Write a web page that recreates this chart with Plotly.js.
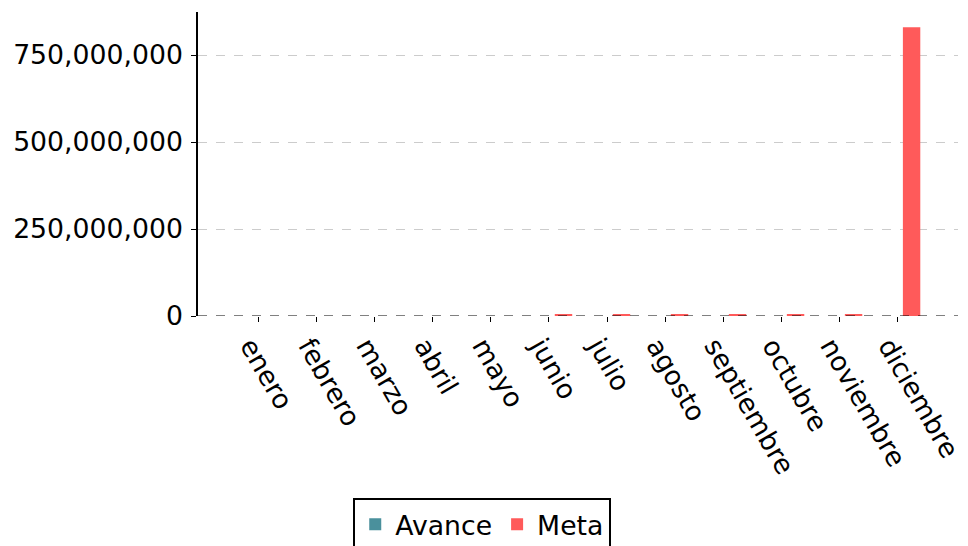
<!DOCTYPE html>
<html><head><meta charset="utf-8">
<script src="https://cdn.plot.ly/plotly-3.0.1.min.js"></script>
<style>body{margin:0;background:#fff}#c{width:968px;height:546px}</style>
</head><body><div id="c"></div>
<script>
const months = ["enero","febrero","marzo","abril","mayo","junio","julio","agosto","septiembre","octubre","noviembre","diciembre"];
const avance = [0,0,0,0,0,0,0,0,0,0,0,0];
const meta = [0,0,0,0,0,3000000,3000000,3000000,3000000,3000000,3000000,830000000];
const yTicks = [0,250000000,500000000,750000000];
const yTickText = ["0","250,000,000","500,000,000","750,000,000"];

const font = {family:"DejaVu Sans", size:26.7, color:"#000"};
const data = [
  {type:"bar", name:"Avance", x:months.map((m,i)=>i), y:avance, width:0.3, offset:-0.4,
   marker:{color:"#4a909c"}},
  {type:"bar", name:"Meta", x:months.map((m,i)=>i), y:meta, width:0.3, offset:0.1,
   marker:{color:"#ff5a5a", line:{width:0}}}
];
const layout = {
  width:968, height:546, margin:{l:198,r:10,t:12,b:230,autoexpand:false},
  paper_bgcolor:"#fff", plot_bgcolor:"#fff", font:font, showlegend:true,
  barmode:"overlay",
  xaxis:{range:[-1.05,12.05], tickmode:"array", tickvals:months.map((m,i)=>i), ticktext:months,
    tickangle:60, ticks:"outside", ticklen:5, tickcolor:"#000", showgrid:false, zeroline:false,
    showline:false, tickfont:font, automargin:false, ticklabeloverflow:"allow",
    ticklabelshift:-8, ticklabelstandoff:-2},
  yaxis:{range:[0,873600000], tickmode:"array", tickvals:yTicks, ticktext:yTickText,
    ticks:"outside", ticklen:5, tickcolor:"#000", showline:true, linecolor:"#000", linewidth:1.5,
    showgrid:true, gridcolor:"#cccccc", griddash:"dash", gridwidth:1, zeroline:false, tickfont:font,
    automargin:false, ticklabelstandoff:3},
  shapes:[{type:"line", xref:"paper", x0:0, x1:1, yref:"y", y0:0, y1:0,
    line:{color:"#000", width:1, dash:"dash"}}],
  legend:{orientation:"h", x:0.374, xanchor:"center", y:-0.6, yanchor:"top",
    bordercolor:"#000", borderwidth:2, bgcolor:"#fff", font:font}
};
Plotly.newPlot("c", data, layout, {displayModeBar:false});
</script></body></html>
